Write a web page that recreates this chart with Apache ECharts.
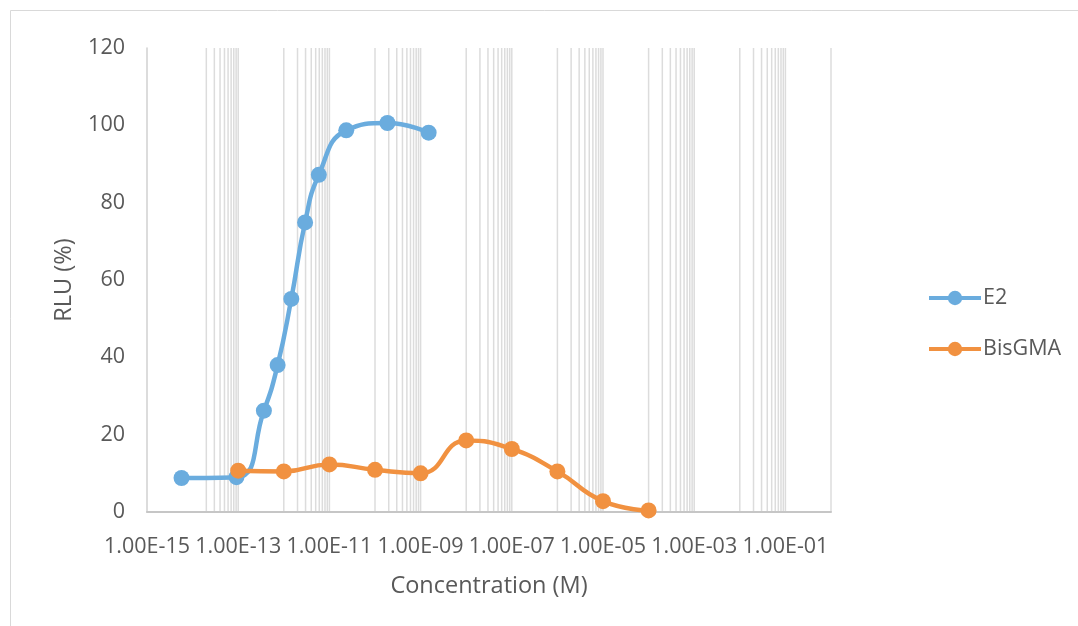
<!DOCTYPE html>
<html>
<head>
<meta charset="utf-8">
<script src="https://cdn.jsdelivr.net/npm/echarts@6/dist/echarts.min.js"></script>
<style>
  html, body { margin: 0; padding: 0; background: #ffffff; }
  #chart { width: 1078px; height: 626px; }
</style>
</head>
<body>
<div id="chart"></div>
<script>
// Concentrations (M) and relative light units (%) for each compound
const e2Conc = [5.72e-15, 9.16e-14, 3.66e-13, 7.32e-13, 1.46e-12, 2.93e-12, 5.86e-12, 2.34e-11, 1.875e-10, 1.5e-9];
const e2Rlu = [8.8, 9.0, 26.2, 38.0, 55.1, 74.9, 87.2, 98.7, 100.6, 98.1];

const bisConc = [1e-13, 1e-12, 1e-11, 1e-10, 1e-9, 1e-8, 1e-7, 1e-6, 1e-5, 1e-4];
const bisRlu = [10.7, 10.5, 12.3, 10.9, 10.0, 18.5, 16.3, 10.5, 2.8, 0.4];

const seriesNames = ['E2', 'BisGMA'];

// Vertical gridline positions on the concentration axis
const gridLineConc = [
  2e-14, 3e-14, 4e-14, 5e-14, 6e-14, 7e-14, 8e-14, 9e-14, 1e-13,
  1e-12, 2e-12, 3e-12, 4e-12, 5e-12, 6e-12, 7e-12, 8e-12, 9e-12, 1e-11,
  1e-10, 2e-10, 3e-10, 4e-10, 5e-10, 6e-10, 7e-10, 8e-10, 9e-10, 1e-9,
  1e-8, 2e-8, 3e-8, 4e-8, 5e-8, 6e-8, 7e-8, 8e-8, 9e-8, 1e-7,
  1e-6, 2e-6, 3e-6, 4e-6, 5e-6, 6e-6, 7e-6, 8e-6, 9e-6, 1e-5,
  1e-4, 2e-4, 3e-4, 4e-4, 5e-4, 6e-4, 7e-4, 8e-4, 9e-4, 1e-3,
  1e-2, 2e-2, 3e-2, 4e-2, 5e-2, 6e-2, 7e-2, 8e-2, 9e-2, 1e-1,
  1
];

const FONT = '"Open Sans", "Noto Sans", sans-serif';
const TEXT = '#595959';
const BLUE = '#6AACDE';
const ORANGE = '#F19140';

function sciLabel(v) {
  const exp = Math.round(Math.log10(v));
  if (exp % 2 === 0) return '';
  const mant = v / Math.pow(10, exp);
  const sign = exp < 0 ? '-' : '+';
  const e = Math.abs(exp);
  return mant.toFixed(2) + 'E' + sign + (e < 10 ? '0' + e : String(e));
}

const chart = echarts.init(document.getElementById('chart'), null, { renderer: 'canvas' });

chart.setOption({
  backgroundColor: '#ffffff',
  animation: false,
  textStyle: { fontFamily: FONT, color: TEXT },
  graphic: [{
    type: 'rect',
    shape: { x: 10.5, y: 10.5, width: 1200, height: 800 },
    style: { fill: 'none', stroke: '#d9d9d9', lineWidth: 1 },
    silent: true
  }],
  grid: { left: 147, right: 247, top: 48, bottom: 114, containLabel: false },
  legend: {
    data: seriesNames,
    orient: 'vertical',
    left: 922,
    top: 282,
    itemWidth: 52,
    itemHeight: 18,
    itemGap: 29,
    lineStyle: { width: 4 },
    textStyle: { fontFamily: FONT, fontSize: 21.5, color: TEXT, padding: [0, 0, 0, -3] }
  },
  xAxis: {
    type: 'log',
    logBase: 10,
    min: 1e-15,
    max: 1,
    interval: 1,
    name: 'Concentration (M)',
    nameLocation: 'middle',
    nameGap: 62,
    nameTextStyle: { fontFamily: FONT, fontSize: 23.5, color: TEXT },
    axisLine: { show: true, lineStyle: { color: '#c6c6c6', width: 2 } },
    axisTick: { show: false },
    splitLine: { show: false },
    axisLabel: {
      fontFamily: FONT, fontSize: 21.5, color: TEXT, margin: 24,
      showMinLabel: true, showMaxLabel: true, hideOverlap: false,
      formatter: sciLabel
    }
  },
  yAxis: {
    type: 'value',
    min: 0,
    max: 120,
    interval: 20,
    name: 'RLU (%)',
    nameLocation: 'middle',
    nameGap: 71,
    nameRotate: 90,
    nameTextStyle: { fontFamily: FONT, fontSize: 23.5, color: TEXT },
    axisLine: { show: true, lineStyle: { color: '#d0d0d0', width: 1.5 } },
    axisTick: { show: false },
    splitLine: { show: false },
    axisLabel: { fontFamily: FONT, fontSize: 21.5, color: TEXT, margin: 22 }
  },
  series: [
    {
      name: 'gridlines',
      type: 'custom',
      silent: true,
      z: 0,
      data: gridLineConc.map(v => [v]),
      encode: { x: 0 },
      renderItem: function (params, api) {
        const pt = api.coord([api.value(0), 0]);
        const cs = params.coordSys;
        return {
          type: 'line',
          shape: { x1: pt[0], y1: cs.y, x2: pt[0], y2: cs.y + cs.height },
          style: { stroke: '#dcdcdc', lineWidth: 1.5 }
        };
      }
    },
    {
      name: seriesNames[0],
      type: 'line',
      z: 3,
      smooth: 0.5,
      symbol: 'circle',
      symbolSize: 16,
      color: BLUE,
      lineStyle: { color: BLUE, width: 4.5 },
      itemStyle: { color: BLUE },
      data: e2Conc.map((c, i) => [c, e2Rlu[i]])
    },
    {
      name: seriesNames[1],
      type: 'line',
      z: 4,
      smooth: 0.5,
      symbol: 'circle',
      symbolSize: 16,
      color: ORANGE,
      lineStyle: { color: ORANGE, width: 4.5 },
      itemStyle: { color: ORANGE },
      data: bisConc.map((c, i) => [c, bisRlu[i]])
    }
  ]
});
</script>
</body>
</html>
